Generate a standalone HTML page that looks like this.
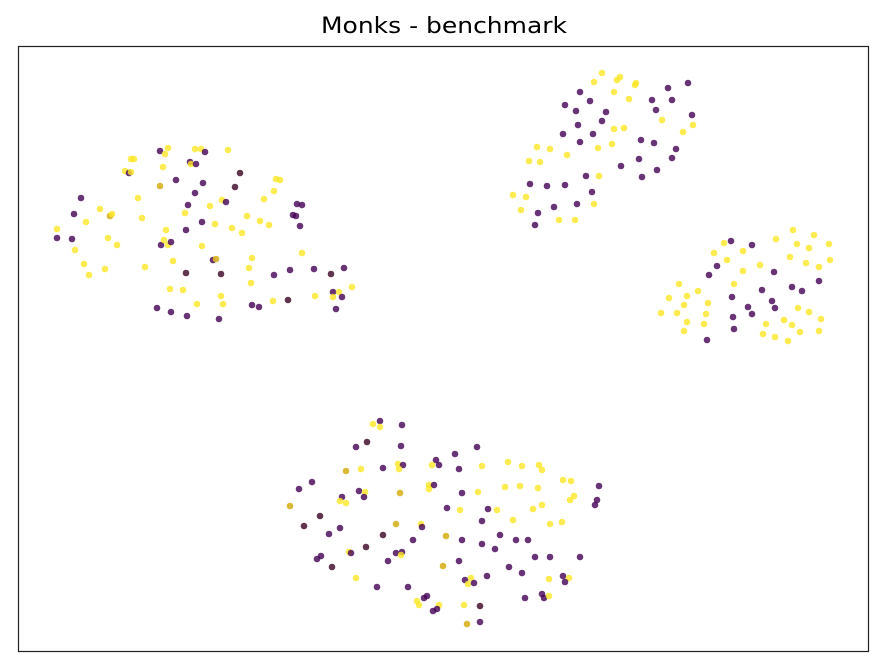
<!DOCTYPE html>
<html><head><meta charset="utf-8"><style>
body{margin:0;background:#fff;}
svg{display:block;font-family:"DejaVu Sans","Liberation Sans",sans-serif;}
</style></head><body>
<svg id="chart" width="887" height="670">
<text x="444" y="33" text-anchor="middle" font-size="22" textLength="246" lengthAdjust="spacingAndGlyphs" fill="#000">Monks - benchmark</text>
<g id="pts"></g>
<rect x="18.5" y="46.5" width="850" height="605" fill="none" stroke="#222" stroke-width="1.2"/>
</svg>
<script>
const xs=[160,168,165,195,201,205,228,131,134,190,191,196,163,125,129,131,240,176,203,160,235,276,280,195,274,81,138,222,226,264,188,210,297,302,100,74,110,112,185,142,247,293,296,86,202,215,260,269,232,242,300,57,166,186,57,72,108,117,161,164,168,171,202,75,302,84,173,213,216,252,89,105,145,186,221,249,274,290,314,331,344,251,170,183,221,333,339,333,342,352,315,273,288,197,223,252,259,157,171,187,219,336,
602,594,617,620,635,636,668,688,580,614,590,629,652,672,565,576,606,656,692,662,578,602,614,624,683,693,563,593,580,641,654,612,598,676,537,550,567,529,540,639,672,621,657,642,586,599,530,547,565,592,513,526,577,594,554,521,538,559,575,535,
793,814,776,797,829,809,731,724,752,743,714,790,760,806,830,727,717,743,774,819,709,819,679,734,792,802,762,698,669,687,732,772,708,684,748,775,798,809,661,677,706,733,752,821,784,766,792,687,704,684,734,763,775,788,800,819,707,
373,380,380,402,356,367,401,477,455,436,432,439,398,403,399,346,361,383,459,482,508,522,539,542,312,299,429,434,429,359,365,364,342,340,346,400,462,478,505,520,538,563,571,599,290,574,570,597,595,447,460,488,497,533,542,320,304,340,396,421,422,482,513,550,562,329,383,413,446,462,500,516,528,366,349,351,396,402,401,482,495,317,321,388,459,535,550,580,332,443,509,522,356,465,471,468,474,487,549,563,569,565,377,408,417,419,424,427,439,437,433,464,480,525,542,544,549,467,480];
const ys=[151,148,154,149,149,152,150,159,159,162,164,164,167,171,173,172,173,180,183,186,187,179,180,193,191,198,198,200,202,199,205,206,204,205,209,214,216,214,213,218,216,215,216,222,222,224,221,225,228,233,226,229,230,230,238,239,238,245,245,240,245,242,246,250,253,264,261,260,259,258,275,269,267,273,274,268,275,270,269,274,268,283,289,290,296,292,292,297,297,287,296,301,300,304,304,305,307,308,312,316,319,309,
73,82,80,77,85,83,88,83,92,92,101,99,100,100,105,111,112,110,115,120,125,121,129,128,132,125,134,134,142,140,143,144,148,149,147,149,155,161,162,159,158,166,170,177,176,176,184,186,185,192,195,197,204,204,207,210,213,220,220,225,
230,235,239,244,244,248,241,243,245,251,253,257,265,263,260,260,266,271,272,267,275,281,284,284,287,291,290,291,298,296,297,301,303,305,307,308,308,312,313,313,314,317,314,319,320,324,325,322,324,331,329,334,337,341,332,331,340,
424,421,427,425,447,442,446,447,454,460,465,465,464,465,469,471,469,468,469,466,462,466,465,470,482,489,485,485,489,491,492,497,497,501,503,493,493,492,487,486,488,480,481,486,506,496,500,500,505,508,510,509,510,509,505,516,526,528,524,524,527,521,520,524,522,534,535,540,536,540,535,540,540,547,552,553,553,552,555,544,549,559,556,561,561,557,557,557,567,566,567,573,578,580,578,584,583,576,579,576,578,582,587,587,601,605,598,596,605,609,611,605,606,598,594,598,596,624,622];
const labels=(
"PYYYYPYYYP"+"YPYYPYDPPG"+"DYYPYPYYPY"+"PYPPYPGYYY"+"YPPYPYYYYY"+"PYYPPPYYPY"+"YPYYYYYPGY"+"YYYDDYPPPD"+"PYYYYPYYPY"+"YYDYYPPPPP"+"PP"+
"YYYYYYPPPY"+"PYPPPPPPPY"+"PPYYYYPPPP"+"PYYPYYYYYP"+"PPPPPYPPPP"+"YYPYPYPYYP"+
"YYYYYYPYPY"+"YYYYYYPYPY"+"PPYYPPPYYY"+"PPYYPPYYYY"+"YPPYYYYYYY"+"PYYYYYP"+
"YPYPPDPPPP"+"YPYPYGYPPY"+"YYYYPPYPYP"+"YPPYYGPYYY"+"YYYPGYYPPP"+"YPYYYDDPGY"+"PPYYYPDPGP"+"PPPDYPPPYP"+"PPPPPPPPDG"+"PPYPYYPPYP"+"YPPPYYPPYP"+"PYDPPPYGP").split('');
const colors={P:"#440154",Y:"#fde725",D:"#5a2a45",G:"#d8b52c"};
const xDomain=[18,869], yDomain=[46,652];
const xScale=v=>18+(v-xDomain[0])/(xDomain[1]-xDomain[0])*851;
const yScale=v=>46+(v-yDomain[0])/(yDomain[1]-yDomain[0])*606;
const g=document.getElementById('pts');
const NS="http://www.w3.org/2000/svg";
for(let i=0;i<xs.length;i++){
  const c=document.createElementNS(NS,'circle');
  c.setAttribute('cx',xScale(xs[i]));
  c.setAttribute('cy',yScale(ys[i]));
  c.setAttribute('r',3.3);
  const k=labels[i]||'P';
  c.setAttribute('fill',colors[k]);
  c.setAttribute('fill-opacity',(k==='P'||k==='Y')?0.8:0.95);
  
  
  g.appendChild(c);
}
</script>
</body></html>
